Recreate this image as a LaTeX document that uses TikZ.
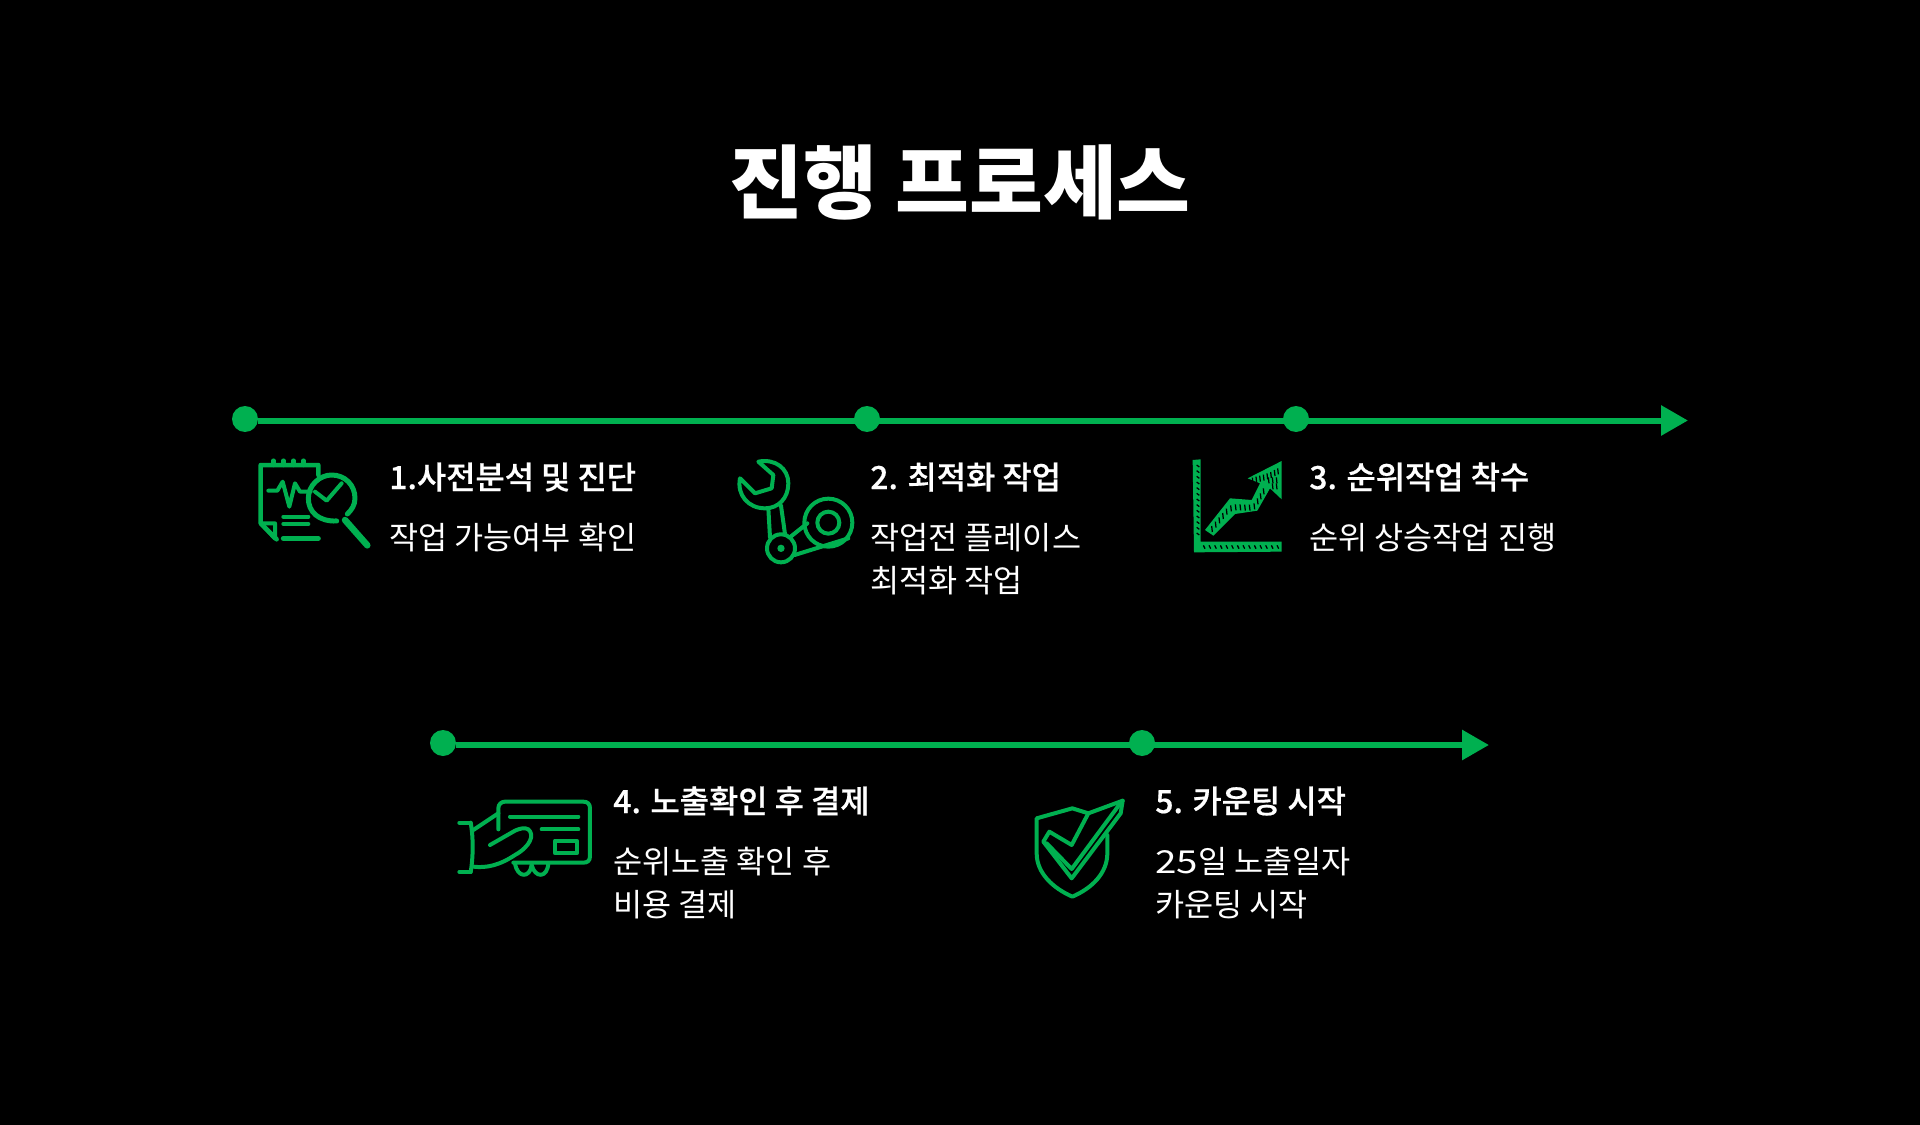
\documentclass[tikz,border=0pt]{standalone}
\usepackage{fontspec}
\setmainfont{Noto Sans CJK KR}
\newfontfamily\headfont[FakeBold=0.6]{Noto Sans CJK KR Medium}
\usetikzlibrary{arrows.meta}
\definecolor{procgreen}{HTML}{00B050}
\begin{document}
\begin{tikzpicture}[x=0.02cm,y=-0.02cm]
    \tikzstyle{dot}=[circle,fill=procgreen,minimum size=0.52cm,inner sep=0pt]
    \tikzstyle{flow}=[draw=procgreen,line width=0.12cm,-{Triangle[length=0.54cm,width=0.58cm]}]
    \tikzstyle{title}=[text=white,font=\fontsize{45.7}{50}\selectfont\bfseries]
    \tikzstyle{heading}=[text=white,anchor=base west,inner sep=0pt,font=\fontsize{18.1}{20}\selectfont\headfont]
    \tikzstyle{body}=[text=white,anchor=north west,inner sep=0pt,align=left,font=\fontsize{18}{24.4}\selectfont]
    \tikzstyle{icon}=[draw=procgreen,line width=0.08cm,line join=round,line cap=round]
    \tikzstyle{hatch}=[draw=black,line width=0.025cm]

    \fill[black] (0,0) rectangle (1920,1125);
    \useasboundingbox (0,0) rectangle (1920,1125);

    \node[title] (t_0) at (960,182) {진행 프로세스};

    \node[dot] (d_1) at (245,419) {};
    \node[dot] (d_2) at (867,419) {};
    \node[dot] (d_3) at (1296,419) {};
    \coordinate (e_1) at (1688,420.5);
    \node[dot] (d_4) at (443,743) {};
    \node[dot] (d_5) at (1142,743) {};
    \coordinate (e_2) at (1489,745);
    \draw[flow] (d_1.east |- e_1) -- (e_1);
    \draw[flow] (d_4.east |- e_2) -- (e_2);

    \node[heading] (h_1) at (389,489) {1.\hspace{-0.3em} 사전분석 및 진단};
    \node[body] (b_1) at (389,523) {작업 가능여부 확인};
    \node[heading] (h_2) at (870,489) {2. 최적화 작업};
    \node[body] (b_2) at (870,523) {작업전 플레이스\\최적화 작업};
    \node[heading] (h_3) at (1309,489) {3. 순위작업 착수};
    \node[body] (b_3) at (1309,523) {순위 상승작업 진행};
    \node[heading] (h_4) at (613,813) {4. 노출확인 후 결제};
    \node[body] (b_4) at (613,847) {순위노출 확인 후\\비용 결제};
    \node[heading] (h_5) at (1155,813) {5. 카운팅 시작};
    \node[body] (b_5) at (1155,847) {\scalebox{1.22}[1]{25}일 노출일자\\카운팅 시작};

    \begin{scope}[shift={(240,440)},x=0.00667cm,y=-0.00667cm]
        \draw[icon,line width=0.09cm] (235,105) -- (235,75) -- (62,75) -- (62,250) -- (110,298);
        \foreach \x in {100,130,160,190}
            \draw[icon,line width=0.09cm] (\x,62) -- (\x,75);
        \draw[icon] (62,250) -- (105,250) -- (105,296) -- cycle;
        \draw[icon] (85,152) -- (112,152) -- (128,125) -- (148,200) -- (165,130) -- (180,155) -- (212,155);
        \draw[icon] (225,155) -- (260,182) -- (305,130);
        \draw[icon,line width=0.1cm] (290,243) .. controls (235,245) and (205,215) .. (205,175) .. controls (205,135) and (240,105) .. (275,105) .. controls (315,105) and (345,135) .. (345,175) .. controls (345,195) and (335,210) .. (322,222);
        \draw[icon,line width=0.13cm] (315,240) -- (382,316);
        \draw[icon] (130,230) -- (205,230);
        \draw[icon] (130,252) -- (205,252);
        \draw[icon,line width=0.1cm] (130,295) -- (235,295);
    \end{scope}

    \begin{scope}[shift={(720,440)},x=0.00667cm,y=-0.00667cm]
        \draw[icon] (60,115) -- (105,160) -- (155,145) -- (160,105) -- (115,65) .. controls (165,55) and (205,85) .. (205,130) .. controls (205,175) and (175,205) .. (135,205) .. controls (85,205) and (50,165) .. (60,115) -- cycle;
        \draw[icon] (145,205) -- (150,292);
        \draw[icon] (183,197) -- (195,282);
        \draw[icon] (183,325) circle[radius=42];
        \fill[procgreen] (183,325) circle[radius=11];
        \draw[icon] (325,248) circle[radius=72];
        \draw[icon] (325,248) circle[radius=33];
        \draw[icon] (212,290) -- (262,250);
        \draw[icon] (224,345) -- (385,295);
    \end{scope}

    \begin{scope}[shift={(1170,440)},x=0.00667cm,y=-0.00667cm]
        \fill[procgreen] (68,60) -- (92,58) -- (92,305) -- (335,305) -- (335,335) -- (72,337) -- cycle;
        \foreach \y in {75,92,...,295}
            \draw[hatch] (80,\y) -- (88,\y+6);
        \foreach \x in {100,117,...,325}
            \draw[hatch] (\x,316) -- (\x+5,326);
        \fill[procgreen] (105,270) -- (180,175) -- (245,180) -- (270,130) -- (233,115) -- (335,63) -- (335,178) -- (300,145) -- (262,212) -- (195,222) -- (130,287) -- cycle;
        \foreach \x/\y in {125/258,136/245,147/232,158/219,169/206,182/196,196/193,210/193,224/194,238/194,252/190,262/175,271/160,280/145,
            247/113,258/110,269/107,280/104,291/100,302/96,313/90,323/85,295/112,307/112,319/112,307/130,319/130}
            \draw[hatch] (\x,\y) -- (\x+2,\y+18);
    \end{scope}

    \begin{scope}[shift={(440,770)},x=0.00667cm,y=-0.00667cm]
        \draw[icon] (175,178) -- (175,115) .. controls (175,102) and (185,95) .. (195,95) -- (430,95) .. controls (443,95) and (450,102) .. (450,115) -- (450,258) .. controls (450,272) and (443,278) .. (430,278) -- (220,278);
        \draw[icon] (210,140) -- (415,140);
        \draw[icon] (305,178) -- (415,178);
        \draw[icon] (345,212) rectangle (410,250);
        \draw[icon] (58,158) -- (92,158);
        \draw[icon] (58,306) -- (92,306);
        \draw[icon] (92,158) .. controls (100,200) and (100,260) .. (92,306);
        \draw[icon] (100,180) -- (175,130);
        \draw[icon] (100,290) .. controls (140,295) and (180,285) .. (225,255) .. controls (270,230) and (285,195) .. (265,178) .. controls (255,172) and (240,175) .. (225,182) -- (150,225);
        \draw[icon] (225,280) .. controls (232,325) and (270,325) .. (275,285);
        \draw[icon] (275,285) .. controls (285,325) and (322,325) .. (325,280);
    \end{scope}

    \begin{scope}[shift={(1020,770)},x=0.00667cm,y=-0.00667cm]
        \draw[icon] (205,130) -- (157,115) -- (50,145) -- (50,250) .. controls (50,310) and (100,355) .. (157,380) .. controls (215,355) and (262,310) .. (262,250) -- (262,195);
        \draw[icon] (88,185) -- (155,225) -- (205,130) -- (308,92) -- (302,130) -- (155,325) -- (70,215) -- cycle;
        \draw[icon] (80,220) -- (155,297) -- (295,108) -- (308,92);
    \end{scope}
\end{tikzpicture}
\end{document}
